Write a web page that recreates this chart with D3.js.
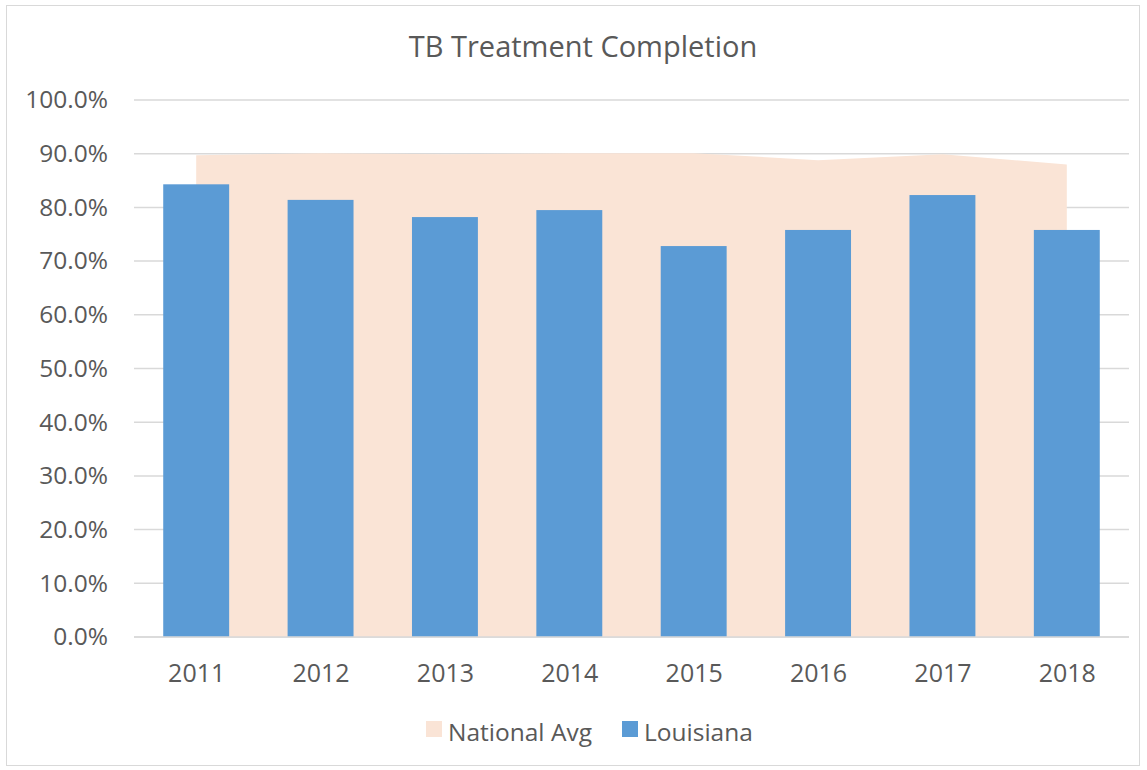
<!DOCTYPE html>
<html>
<head>
<meta charset="utf-8">
<script src="https://cdn.jsdelivr.net/npm/d3@7"></script>
<style>
  body { margin: 0; background: #fff; }
  text { font-family: "Open Sans", sans-serif; fill: #595959; }
</style>
</head>
<body>
<div id="chart-div"></div>
<script>
// chart values
const years = ["2011", "2012", "2013", "2014", "2015", "2016", "2017", "2018"];
const nationalAvg = [0.897, 0.901, 0.899, 0.901, 0.901, 0.888, 0.899, 0.880];
const louisiana = [0.843, 0.814, 0.782, 0.795, 0.728, 0.758, 0.823, 0.758];
const yTicks = [0, 0.1, 0.2, 0.3, 0.4, 0.5, 0.6, 0.7, 0.8, 0.9, 1.0];

const width = 1147;
const height = 770;
const plotLeft = 134, plotRight = 1129, plotTop = 100, plotBottom = 637;

const svg = d3.select("#chart-div")
              .append("svg")
              .attr("width", width)
              .attr("height", height);

// outer border
svg.append("rect")
   .attr("x", 6.5).attr("y", 5.5)
   .attr("width", 1133).attr("height", 760)
   .attr("fill", "none")
   .attr("stroke", "#d9d9d9");

const xScale = d3.scaleBand().domain(years).range([plotLeft, plotRight]).paddingInner(0.47).paddingOuter(0.235);
const xPoint = d3.scalePoint().domain(years).range([plotLeft, plotRight]).padding(0.5);
const yScale = d3.scaleLinear().domain([0, 1]).range([plotBottom, plotTop]);

// gridlines
svg.append("g")
   .selectAll("line")
   .data(yTicks)
   .enter()
   .append("line")
   .attr("x1", plotLeft).attr("x2", plotRight)
   .attr("y1", d => yScale(d)).attr("y2", d => yScale(d))
   .attr("stroke", "#d9d9d9")
   .attr("stroke-width", 1.5);

// national avg area
const area = d3.area()
   .x((d, i) => xPoint(years[i]))
   .y0(yScale(0))
   .y1(d => yScale(d));
svg.append("path")
   .datum(nationalAvg)
   .attr("d", area)
   .attr("fill", "#fae4d6");

// bars
svg.selectAll("rect.bar")
   .data(louisiana)
   .enter()
   .append("rect")
   .attr("class", "bar")
   .attr("x", (d, i) => xScale(years[i]))
   .attr("y", d => yScale(d))
   .attr("width", xScale.bandwidth())
   .attr("height", d => yScale(0) - yScale(d))
   .attr("fill", "#5b9bd5");

// x baseline
svg.append("line")
   .attr("x1", plotLeft).attr("x2", plotRight)
   .attr("y1", yScale(0)).attr("y2", yScale(0))
   .attr("stroke", "#d9d9d9").attr("stroke-width", 1.5);

// y axis labels
const yAxis = d3.axisLeft(yScale).tickValues(yTicks).tickFormat(d3.format(".1%")).tickSize(0).tickPadding(26);
svg.append("g")
   .attr("transform", `translate(${plotLeft},0)`)
   .call(yAxis)
   .call(g => g.select(".domain").remove())
   .selectAll("text")
   .attr("font-size", 24.5)
   .attr("font-family", "Open Sans")
   .attr("fill", "#595959");

// x axis labels
const xAxis = d3.axisBottom(xPoint).tickSize(0).tickPadding(27);
svg.append("g")
   .attr("transform", `translate(0,${plotBottom})`)
   .call(xAxis)
   .call(g => g.select(".domain").remove())
   .selectAll("text")
   .attr("font-size", 25)
   .attr("font-family", "Open Sans")
   .attr("fill", "#595959");

// title
svg.append("text")
   .attr("x", 583).attr("y", 57)
   .attr("text-anchor", "middle")
   .attr("font-size", 29)
   .text("TB Treatment Completion");

// legend
const legend = [["National Avg", "#fae4d6", 426], ["Louisiana", "#5b9bd5", 622]];
const lg = svg.append("g").selectAll("g").data(legend).enter().append("g");
lg.append("rect")
  .attr("x", d => d[2]).attr("y", 721)
  .attr("width", 16).attr("height", 16)
  .attr("fill", d => d[1]);
lg.append("text")
  .attr("x", d => d[2] + 22).attr("y", 741)
  .attr("font-size", 24.5)
  .text(d => d[0]);
</script>
</body>
</html>
